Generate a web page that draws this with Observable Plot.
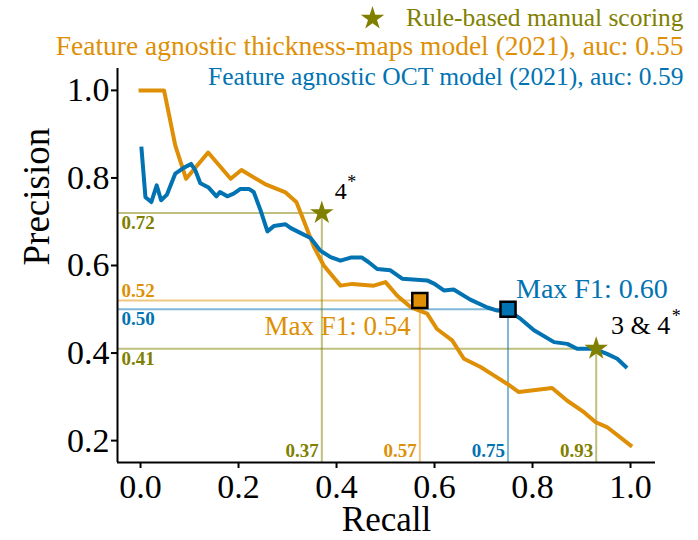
<!DOCTYPE html>
<html>
<head>
<meta charset="utf-8">
<script src="https://cdn.jsdelivr.net/npm/d3@7"></script>
<script src="https://cdn.jsdelivr.net/npm/@observablehq/plot@0.6"></script>
<style>
  html, body { margin: 0; padding: 0; background: white; }
  #chart { width: 698px; height: 540px; }
</style>
</head>
<body>
<div id="chart"></div>
<script>
// ---- data ----
const orangeRecall = [0, 0.048, 0.071, 0.093, 0.138, 0.184, 0.206, 0.254, 0.296, 0.318, 0.333, 0.354, 0.374, 0.408, 0.432, 0.476, 0.50, 0.524, 0.551, 0.585, 0.605, 0.636, 0.66, 0.694, 0.721, 0.748, 0.772, 0.840, 0.871, 0.905, 0.929, 0.952, 1.0];
const orangePrecision = [1.0, 1.0, 0.874, 0.798, 0.858, 0.798, 0.818, 0.786, 0.767, 0.745, 0.703, 0.642, 0.60, 0.554, 0.558, 0.554, 0.562, 0.531, 0.505, 0.49, 0.455, 0.429, 0.387, 0.368, 0.349, 0.330, 0.311, 0.320, 0.291, 0.265, 0.242, 0.231, 0.189];

const blueRecall = [0.002, 0.010, 0.022, 0.033, 0.042, 0.054, 0.071, 0.088, 0.103, 0.112, 0.122, 0.139, 0.155, 0.162, 0.177, 0.190, 0.204, 0.221, 0.231, 0.245, 0.259, 0.272, 0.296, 0.306, 0.327, 0.347, 0.367, 0.388, 0.408, 0.429, 0.452, 0.465, 0.483, 0.510, 0.534, 0.585, 0.600, 0.619, 0.639, 0.673, 0.708, 0.728, 0.752, 0.776, 0.803, 0.844, 0.871, 0.891, 0.925, 0.952, 0.973, 0.990];
const bluePrecision = [0.867, 0.756, 0.745, 0.783, 0.749, 0.762, 0.810, 0.823, 0.832, 0.817, 0.788, 0.778, 0.758, 0.768, 0.758, 0.764, 0.775, 0.775, 0.768, 0.726, 0.678, 0.690, 0.694, 0.686, 0.674, 0.663, 0.634, 0.619, 0.611, 0.618, 0.618, 0.608, 0.592, 0.589, 0.570, 0.566, 0.558, 0.543, 0.545, 0.522, 0.504, 0.497, 0.496, 0.478, 0.452, 0.425, 0.421, 0.410, 0.410, 0.398, 0.387, 0.369];

// Max F1 points
const maxF1Recall = [0.57, 0.75];
const maxF1Precision = [0.52, 0.50];
const maxF1Labels = ["Max F1: 0.54", "Max F1: 0.60"];

// Rule-based manual scoring points
const manualRecall = [0.37, 0.93];
const manualPrecision = [0.72, 0.41];
const manualLabels = ["4", "3 & 4"];

// reference lines (recall, precision, series)
const refRecall = [0.37, 0.57, 0.75, 0.93];
const refPrecision = [0.72, 0.52, 0.50, 0.41];
const refSeries = ["manual", "orange", "blue", "manual"];

const legendLabels = [
  "Rule-based manual scoring",
  "Feature agnostic thickness-maps model (2021), auc: 0.55",
  "Feature agnostic OCT model (2021), auc: 0.59"
];

const xTicks = [0, 0.2, 0.4, 0.6, 0.8, 1.0];
const yTicks = [0.2, 0.4, 0.6, 0.8, 1.0];

// ---- styles ----
const colors = {manual: "#808000", orange: "#DE8F05", blue: "#0173B2"};
const xDomain = [-0.047, 1.051];
const yDomain = [0.15, 1.05];
const serif = "'Liberation Serif', serif";

const orangeRows = orangeRecall.map((r, i) => ({x: r, y: orangePrecision[i]}));
const blueRows = blueRecall.map((r, i) => ({x: r, y: bluePrecision[i]}));
const maxRows = maxF1Recall.map((r, i) => ({x: r, y: maxF1Precision[i], label: maxF1Labels[i], series: i === 0 ? "orange" : "blue"}));
const manualRows = manualRecall.map((r, i) => ({x: r, y: manualPrecision[i], label: manualLabels[i]}));
const refRows = refRecall.map((r, i) => ({x: r, y: refPrecision[i], series: refSeries[i]}));
const col = d => colors[d.series];

const chart = Plot.plot({
  width: 698,
  height: 540,
  marginLeft: 117,
  marginRight: 43,
  marginTop: 68,
  marginBottom: 78,
  x: {domain: xDomain, label: null},
  y: {domain: yDomain, label: null},
  style: {fontFamily: serif, background: "white", color: "black", overflow: "visible"},
  marks: [
    // reference lines
    Plot.ruleY(refRows, {y: "y", x1: xDomain[0], x2: "x", stroke: col, strokeOpacity: 0.5, strokeWidth: 2}),
    Plot.ruleX(refRows, {x: "x", y1: yDomain[0], y2: "y", stroke: col, strokeOpacity: 0.5, strokeWidth: 2}),
    // reference value labels on the left
    Plot.text(refRows.filter((d, i) => i !== 1), {y: "y", frameAnchor: "left", lineAnchor: "middle", text: d => d.y.toFixed(2), fill: col, textAnchor: "start", dx: 4, dy: 10, fontSize: 19, fontWeight: "bold", fontFamily: serif}),
    Plot.text(refRows.filter((d, i) => i === 1), {y: "y", frameAnchor: "left", lineAnchor: "middle", text: d => d.y.toFixed(2), fill: col, textAnchor: "start", dx: 4, dy: -10, fontSize: 19, fontWeight: "bold", fontFamily: serif}),
    // reference value labels at the bottom
    Plot.text(refRows, {x: "x", frameAnchor: "bottom", lineAnchor: "middle", text: d => d.x.toFixed(2), fill: col, textAnchor: "end", dx: -3, dy: -12, fontSize: 19, fontWeight: "bold", fontFamily: serif}),
    // curves
    Plot.line(orangeRows, {x: "x", y: "y", stroke: colors.orange, strokeWidth: 4, strokeLinejoin: "round", strokeLinecap: "square"}),
    Plot.line(blueRows, {x: "x", y: "y", stroke: colors.blue, strokeWidth: 4, strokeLinejoin: "round", strokeLinecap: "square"}),
    // max F1 squares
    Plot.dot(maxRows, {x: "x", y: "y", symbol: "square", r: 8.5, fill: col, stroke: "black", strokeWidth: 2.5}),
    Plot.text(maxRows.slice(0, 1), {x: "x", y: "y", text: "label", fill: col, textAnchor: "end", dx: -9, dy: 26, fontSize: 27, fontFamily: serif}),
    Plot.text(maxRows.slice(1), {x: "x", y: "y", text: "label", fill: col, textAnchor: "start", dx: 8, dy: -20, fontSize: 28, fontFamily: serif}),
    // manual scoring stars
    Plot.dot(manualRows, {x: "x", y: "y", symbol: "star", r: 7.4, fill: colors.manual}),
    Plot.text(manualRows.slice(0, 1), {x: "x", y: "y", text: "label", fill: "black", textAnchor: "end", dx: 25, dy: -22, fontSize: 24, fontFamily: serif}),
    Plot.text(manualRows.slice(0, 1), {x: "x", y: "y", text: () => "*", fill: "black", textAnchor: "start", dx: 25.5, dy: -31, fontSize: 18, fontFamily: serif}),
    Plot.text(manualRows.slice(1), {x: "x", y: "y", text: "label", fill: "black", textAnchor: "end", dx: 74, dy: -23, fontSize: 26, fontFamily: serif}),
    Plot.text(manualRows.slice(1), {x: "x", y: "y", text: () => "*", fill: "black", textAnchor: "start", dx: 75.5, dy: -32, fontSize: 18, fontFamily: serif}),
    // spines
    Plot.ruleX([xDomain[0]], {strokeWidth: 2}),
    Plot.ruleY([yDomain[0]], {strokeWidth: 2}),
    // axes
    Plot.axisX(xTicks, {tickFormat: d => d.toFixed(1), tickSize: 6, tickPadding: 5, fontSize: 34, strokeWidth: 2, label: null, fontFamily: serif}),
    Plot.axisY(yTicks, {tickFormat: d => d.toFixed(1), tickSize: 6, tickPadding: 2, fontSize: 34, strokeWidth: 2, label: null, fontFamily: serif}),
    // axis titles
    Plot.text(["Recall"], {frameAnchor: "bottom", lineAnchor: "middle", text: d => d, dy: 57, fontSize: 35, fill: "black", fontFamily: serif}),
    Plot.text(["Precision"], {frameAnchor: "left", lineAnchor: "middle", text: d => d, dx: -80, rotate: -90, fontSize: 37, fill: "black", fontFamily: serif}),
    // legend
    Plot.dot([legendLabels[0]], {frameAnchor: "top-right", symbol: "star", r: 7.4, fill: colors.manual, dx: 372 - 655, dy: 18 - 68}),
    Plot.text([legendLabels[0]], {frameAnchor: "top-right", lineAnchor: "middle", text: d => d, textAnchor: "end", dx: 28, dy: -51, fontSize: 25.5, fill: colors.manual, fontFamily: serif}),
    Plot.text([legendLabels[1]], {frameAnchor: "top-right", lineAnchor: "middle", text: d => d, textAnchor: "end", dx: 28, dy: -22, fontSize: 27.5, fill: colors.orange, fontFamily: serif}),
    Plot.text([legendLabels[2]], {frameAnchor: "top-right", lineAnchor: "middle", text: d => d, textAnchor: "end", dx: 28, dy: 8, fontSize: 25.5, fill: colors.blue, fontFamily: serif})
  ]
});
document.getElementById("chart").appendChild(chart);
</script>
</body>
</html>
